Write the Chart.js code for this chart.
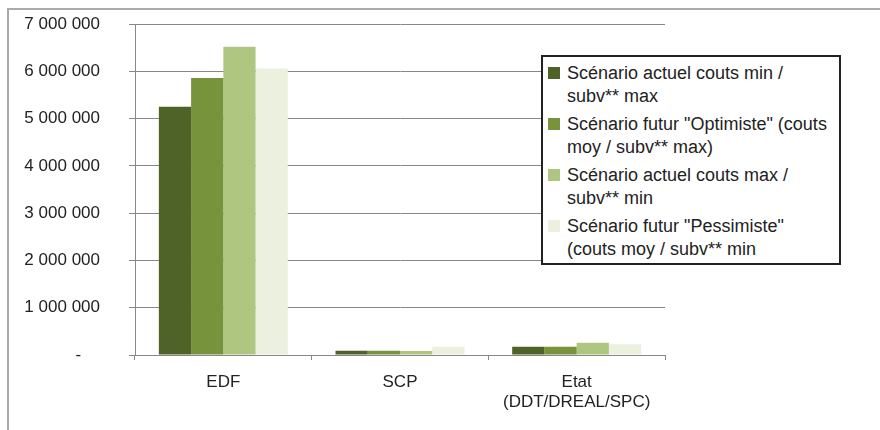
<!DOCTYPE html>
<html>
<head>
<meta charset="utf-8">
<script src="https://cdn.jsdelivr.net/npm/chart.js@4/dist/chart.umd.min.js"></script>
<style>
    body { margin: 0; background: #fff; font-family: "Liberation Sans", Arial, sans-serif; }
    #wrap { position: relative; width: 880px; height: 430px; overflow: hidden; }
    #frame { position: absolute; left: 7px; top: 8px; right: -5px; bottom: -5px;
             border-top: 2px solid #aaa; border-left: 2px solid #aaa; }
    #chart { position: absolute; left: 0; top: 0; }
    #legend { position: absolute; left: 541px; top: 55px; width: 292px; height: 201px;
              border: 2px solid #222; background: #fff; padding: 5px 0 0 4px; box-sizing: content-box;
              font-size: 18px; color: #222; white-space: nowrap; }
    .item { display: flex; margin-bottom: 5px; line-height: 23px; }
    .sw { width: 12px; height: 12px; margin: 5px 7px 0 1px; flex: none; }
</style>
</head>
<body>
<div id="wrap">
    <div id="frame"></div>
    <canvas id="chart" width="880" height="430"></canvas>
    <div id="legend"></div>
</div>
<script>
// categories and series
const categories = ['EDF', 'SCP', ['Etat', '(DDT/DREAL/SPC)']];
const seriesNames = [
    ['Scénario actuel couts min /', 'subv** max'],
    ['Scénario futur "Optimiste" (couts', 'moy / subv** max)'],
    ['Scénario actuel couts max /', 'subv** min'],
    ['Scénario futur "Pessimiste"', '(couts moy / subv** min']
];
const actuelMin = [5250000, 90000, 175000];
const futurOptimiste = [5860000, 90000, 175000];
const actuelMax = [6520000, 85000, 260000];
const futurPessimiste = [6060000, 175000, 225000];
const colors = ['#4F6228', '#77933C', '#AFC680', '#EBF1DE'];
const yTicks = [0, 1000000, 2000000, 3000000, 4000000, 5000000, 6000000, 7000000];

function fmt(v) {
    if (v === 0) return '-    ';
    return String(v).replace(/\B(?=(\d{3})+(?!\d))/g, ' ');
}

const values = [actuelMin, futurOptimiste, actuelMax, futurPessimiste];
const datasets = values.map((vals, i) => ({
    label: seriesNames[i].join(' '),
    data: vals,
    backgroundColor: colors[i],
    borderWidth: 0
}));

const font = { family: '"Liberation Sans", Arial, sans-serif', size: 17 };

const ctx = document.getElementById('chart').getContext('2d');
const chart = new Chart(ctx, {
    type: 'bar',
    data: { labels: categories, datasets: datasets },
    options: {
        responsive: false,
        animation: false,
        layout: { padding: { top: 24, right: 215, left: 0, bottom: 0 } },
        plugins: { legend: { display: false }, tooltip: { enabled: false } },
        datasets: { bar: { categoryPercentage: 0.73, barPercentage: 1 } },
        scales: {
            x: {
                grid: { offset: true, drawOnChartArea: false, drawTicks: true, tickLength: 5, color: '#888' },
                border: { color: '#888' },
                ticks: { color: '#222', font: font, padding: 12, maxRotation: 0 },
                afterFit: s => { s.height = 75; s.paddingTop = 0; s.paddingBottom = 0; }
            },
            y: {
                min: 0,
                max: 7000000,
                afterBuildTicks: s => { s.ticks = yTicks.map(v => ({ value: v })); },
                grid: { color: '#888', tickLength: 6 },
                border: { color: '#888' },
                ticks: { color: '#222', font: font, padding: 29, callback: v => fmt(v) },
                afterFit: s => { s.width = 135; s.paddingTop = 0; s.paddingBottom = 0; }
            }
        }
    }
});
</script>
<script>
// legend as html so the labels wrap like the original
const legend = document.getElementById('legend');
seriesNames.forEach((lines, i) => {
    const item = document.createElement('div');
    item.className = 'item';
    const sw = document.createElement('div');
    sw.className = 'sw';
    sw.style.background = colors[i];
    const txt = document.createElement('div');
    txt.innerHTML = lines.join('<br>');
    item.appendChild(sw);
    item.appendChild(txt);
    legend.appendChild(item);
});
</script>
</body>
</html>
